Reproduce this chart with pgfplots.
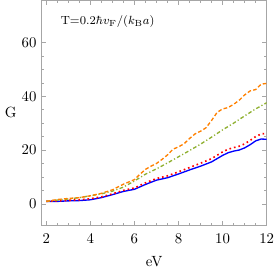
\documentclass[border=0pt]{standalone}
\usepackage{pgfplots}
\pgfplotsset{compat=1.18}
\definecolor{mgreen}{rgb}{0.56,0.69,0.19}
\definecolor{morange}{rgb}{1,0.5,0}
\begin{document}
\begin{tikzpicture}
\begin{axis}[
  scale only axis,
  width=152pt, height=152pt,
  xmin=1.79, xmax=12, ymin=-8, ymax=75.7,
  xtick={2,4,6,8,10,12}, ytick={0,20,40,60},
  minor x tick num=3, minor y tick num=3,
  tick align=inside,
  major tick length=3pt, minor tick length=1.6pt,
  axis line style={gray!70},
  every tick/.style={gray!70},
  xticklabel style={yshift=-2pt},
  xlabel={eV}, ylabel={G},
  ylabel style={rotate=-90, at={(ticklabel cs:0.5)}, anchor=center, xshift=-4pt},
  xlabel style={yshift=-2pt},
  clip=true,
]
\addplot[blue, line width=0.9pt] coordinates {
(2,0.9)(2.5,0.9)(3,1.1)(3.5,1.2)(4,1.5)(4.5,2.3)(5,3.4)(5.5,4.6)(6,5.4)(6.5,7.2)(7,8.8)(7.5,9.7)(8,11.1)(8.5,12.6)(9,14.0)(9.5,15.6)(10,18.0)(10.25,19.0)(10.5,19.6)(10.75,20.0)(11,20.8)(11.25,22.0)(11.5,23.4)(11.75,24.1)(12,24.0)};
\addplot[red, line width=1.1pt, dotted] coordinates {
(2,0.9)(2.5,1.1)(3,1.3)(3.5,1.5)(4,1.9)(4.5,2.6)(5,3.7)(5.5,5.0)(6,5.9)(6.5,7.8)(7,9.4)(7.5,10.4)(8,11.9)(8.5,13.5)(9,15.1)(9.5,16.8)(10,19.3)(10.25,20.3)(10.5,20.9)(10.75,21.4)(11,22.3)(11.25,23.6)(11.5,25.0)(11.75,26.0)(12,26.2)};
\addplot[mgreen, line width=0.9pt, dash pattern=on 2.5pt off 1.5pt on 0.8pt off 1.5pt] coordinates {
(2,0.9)(2.5,1.4)(3,1.8)(3.5,2.3)(4,3.0)(4.5,3.7)(5,4.7)(5.5,6.2)(6,8.5)(6.5,11.0)(7,13.0)(7.5,15.2)(8,17.5)(8.5,19.8)(9,22.2)(9.5,24.8)(10,27.5)(10.5,30.0)(11,32.7)(11.5,35.3)(12,37.6)};
\addplot[morange, line width=0.9pt, dash pattern=on 2.5pt off 1.5pt] coordinates {
(2,0.9)(2.5,1.6)(3,2.0)(3.5,2.3)(4,3.0)(4.5,3.9)(5,5.2)(5.5,7.3)(6,9.0)(6.25,11.0)(6.5,12.8)(6.75,14.0)(7,15.0)(7.25,16.5)(7.5,18.2)(7.75,20.3)(8,21.2)(8.25,22.3)(8.5,24.3)(8.75,26.0)(9,27.0)(9.25,28.3)(9.5,31.0)(9.75,34.0)(10,35.3)(10.25,35.8)(10.5,37.0)(10.75,38.5)(11,40.5)(11.25,42.0)(11.5,42.5)(11.75,44.5)(12,44.8)};
\node[anchor=west, font=\footnotesize, inner sep=0pt] at (axis cs:2.65,67.8) {T=0.2$\hbar v_{\mathrm{F}}/(k_{\mathrm{B}}a)$};
\end{axis}
\end{tikzpicture}
\end{document}
